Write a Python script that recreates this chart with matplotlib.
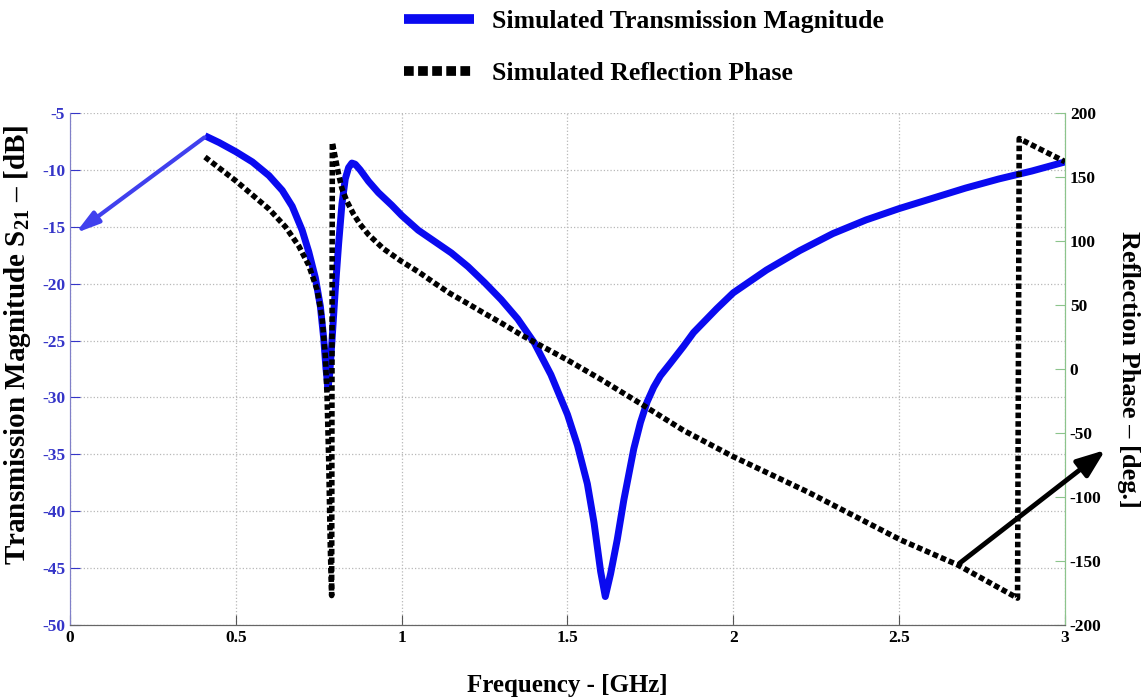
import matplotlib.pyplot as plt
from matplotlib.lines import Line2D

plt.rcParams['font.family'] = ['Liberation Serif', 'DejaVu Serif']
plt.rcParams['font.weight'] = 'bold'
plt.rcParams['axes.unicode_minus'] = False
plt.rcParams['mathtext.fontset'] = 'custom'
plt.rcParams['mathtext.rm'] = 'Liberation Serif:bold'
plt.rcParams['mathtext.bf'] = 'Liberation Serif:bold'

# Transmission magnitude S21, dB
freq_mag = [0.407, 0.45, 0.5, 0.55, 0.6, 0.64, 0.67, 0.7, 0.72, 0.74, 0.755, 0.765,
            0.772, 0.778, 0.783, 0.79, 0.8, 0.81, 0.82, 0.83, 0.84, 0.85, 0.86,
            0.875, 0.9, 0.93, 0.97, 1.0, 1.05, 1.1, 1.15, 1.2, 1.25, 1.3, 1.35,
            1.4, 1.45, 1.5, 1.53, 1.56, 1.58, 1.6, 1.614, 1.63, 1.65, 1.67, 1.7,
            1.72, 1.74, 1.76, 1.78, 1.81, 1.85, 1.88, 1.95, 2.0, 2.1, 2.2, 2.3,
            2.4, 2.5, 2.6, 2.7, 2.8, 2.9, 3.0]
mag = [-7.0, -7.6, -8.4, -9.3, -10.5, -11.8, -13.2, -15.3, -17.2, -19.5, -22.0, -24.8,
       -27.5, -29.2, -28.0, -25.0, -20.5, -16.5, -13.0, -10.8, -9.8, -9.4, -9.5,
       -10.0, -11.0, -12.0, -13.1, -14.0, -15.3, -16.3, -17.3, -18.5, -19.9, -21.4, -23.1,
       -25.2, -28.0, -31.5, -34.2, -37.6, -41.0, -45.3, -47.5, -45.5, -42.5, -39.0, -34.5,
       -32.2, -30.4, -29.1, -28.1, -27.0, -25.5, -24.3, -22.2, -20.8, -18.8, -17.1, -15.6,
       -14.4, -13.4, -12.5, -11.6, -10.8, -10.1, -9.3]

# Reflection phase, deg
freq_ph = [0.407, 0.45, 0.5, 0.55, 0.6, 0.65, 0.69, 0.72, 0.745, 0.76, 0.77, 0.775,
           0.78, 0.785, 0.789, 0.791, 0.8, 0.81, 0.82, 0.835, 0.855, 0.875, 0.9,
           0.945, 1.0, 1.05, 1.1, 1.146, 1.2, 1.246, 1.3, 1.358, 1.4, 1.5, 1.6,
           1.72, 1.85, 2.0, 2.224, 2.505, 2.676, 2.857, 2.862, 3.0]
phase = [165.6, 157, 147, 136, 125, 111, 96, 81, 62, 40, 10, -20,
         -70, -140, -177, 177, 165, 152, 141, 131, 121, 113, 105,
         94, 84, 76, 67, 59, 51, 44, 36, 27, 21, 7, -8,
         -27, -48, -68.5, -96, -133.6, -153, -179, 180, 162]

xticks = [0, 0.5, 1, 1.5, 2, 2.5, 3]
xticklabels = ['0', '0.5', '1', '1.5', '2', '2.5', '3']
yticks_mag = [-50, -45, -40, -35, -30, -25, -20, -15, -10, -5]
yticks_ph = [-200, -150, -100, -50, 0, 50, 100, 150, 200]

blue_tick = '#3535c8'
green = '#8cc48c'

fig = plt.figure(figsize=(11.47, 6.98), dpi=100)
ax = fig.add_axes([0.061, 0.1046, 0.8675, 0.7335])
ax2 = ax.twinx()

ax.plot(freq_mag, mag, color='#0a0af0', lw=5, solid_capstyle='butt',
        solid_joinstyle='round', zorder=3)
ax2.plot(freq_ph, phase, color='black', lw=4, linestyle=(0, (1, 0.55)),
         dash_capstyle='butt', zorder=3)

ax.set_xlim(0, 3)
ax.set_ylim(-50, -5)
ax2.set_ylim(-200, 200)

ax.set_xticks(xticks)
ax.set_xticklabels(xticklabels)
ax.set_yticks(yticks_mag)
ax2.set_yticks(yticks_ph)

ax.grid(True, linestyle=':', color='#b8b8b8', lw=0.9)
ax.tick_params(axis='y', direction='in', length=7, colors=blue_tick, labelsize=12.5)
ax.tick_params(axis='x', direction='in', length=7, color='#555555', labelsize=12.5)
ax2.tick_params(axis='y', direction='in', length=7, color=green, labelcolor='black',
                labelsize=12.5)
for lab in ax.get_xticklabels() + ax.get_yticklabels() + ax2.get_yticklabels():
    lab.set_fontweight('bold')

for a in (ax, ax2):
    a.spines['top'].set_visible(False)
    a.spines['left'].set_color('#8080c8')
    a.spines['right'].set_color(green)
    a.spines['bottom'].set_color('#666666')

ax.set_xlabel('Frequency - [GHz]', fontsize=18, fontweight='bold', labelpad=20)
ax.set_ylabel(r'Transmission Magnitude S$_{21}$ – [dB]', fontsize=21,
              fontweight='bold')
ax.yaxis.set_label_coords(-0.037, 0.547)
ax2.set_ylabel('Reflection Phase – [deg.]', fontsize=19, fontweight='bold',
               rotation=-90, labelpad=28)

# arrows pointing to the axes
ax.annotate('', xy=(0.01, -15.7), xytext=(0.412, -7.0),
            arrowprops=dict(arrowstyle='-|>,head_length=1.4,head_width=0.4',
                            color='#4040ee', lw=3), annotation_clip=False, zorder=4)
ax2.annotate('', xy=(3.128, -62), xytext=(2.676, -153),
             arrowprops=dict(arrowstyle='-|>,head_length=1.7,head_width=0.65',
                             color='black', lw=3.5), annotation_clip=False, zorder=4)

handles = [Line2D([], [], color='#0a0af0', lw=7, solid_capstyle='butt'),
           Line2D([], [], color='black', lw=7, linestyle=(0, (1, 0.45)),
                  dash_capstyle='butt')]
fig.legend(handles, ['Simulated Transmission Magnitude', 'Simulated Reflection Phase'],
           loc='upper left', bbox_to_anchor=(0.352, 0.985), frameon=False,
           prop={'size': 18.5, 'weight': 'bold'}, handlelength=2.75,
           handletextpad=0.7, labelspacing=1.12, borderpad=0, borderaxespad=0)

fig.savefig('out.png', dpi=100)
